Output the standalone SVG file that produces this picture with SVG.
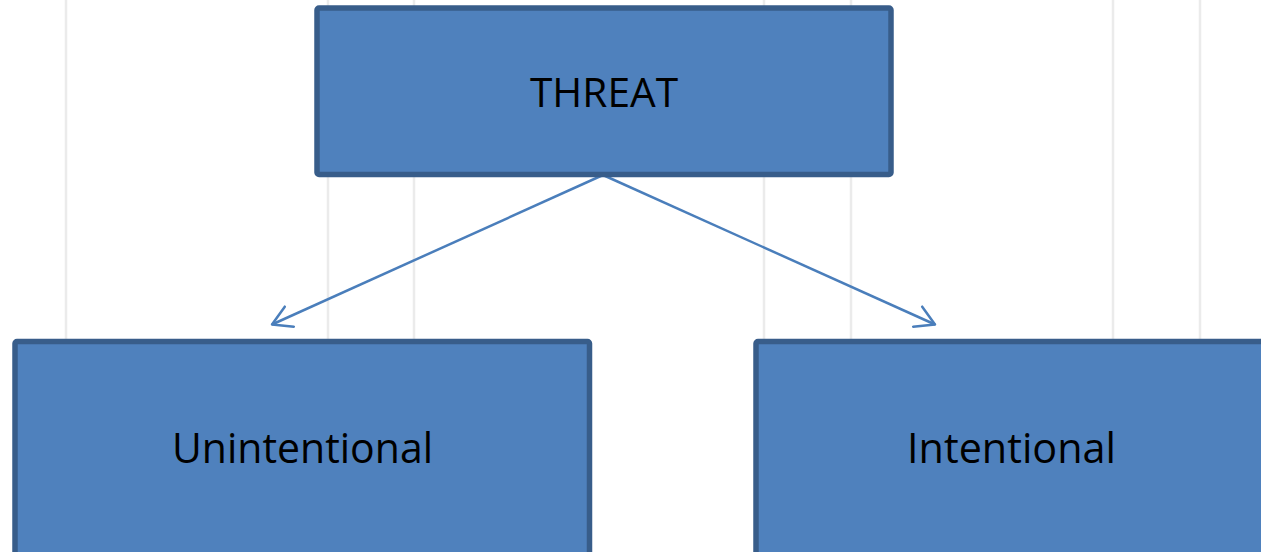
<svg xmlns="http://www.w3.org/2000/svg" width="1261" height="552" viewBox="0 0 1261 552">
  <style>
    .grid { stroke: #ebebeb; stroke-width: 2.5; }
    .box { fill: #4F81BD; stroke: #385D8A; stroke-width: 5.5; }
    .label { font-family: "Open Sans", "Liberation Sans", sans-serif; fill: #000000; text-anchor: middle; }
    .conn { stroke: #4A7EBB; stroke-width: 2.5; fill: none; }
  </style>
  <defs>
    <marker id="arrow" markerUnits="userSpaceOnUse" markerWidth="28" markerHeight="28" viewBox="-24 -14 28 28" refX="0" refY="0" orient="auto">
      <path d="M-19,-11 L0,0 L-19,11" fill="none" stroke="#4A7EBB" stroke-width="2.5" stroke-linecap="round" stroke-linejoin="round"/>
    </marker>
  </defs>
  <rect width="1261" height="552" fill="#ffffff"/>
  <g id="grid">
    <line class="grid" x1="66" y1="0" x2="66" y2="552"/>
    <line class="grid" x1="328" y1="0" x2="328" y2="552"/>
    <line class="grid" x1="414" y1="0" x2="414" y2="552"/>
    <line class="grid" x1="764" y1="0" x2="764" y2="552"/>
    <line class="grid" x1="851" y1="0" x2="851" y2="552"/>
    <line class="grid" x1="1113" y1="0" x2="1113" y2="552"/>
    <line class="grid" x1="1200" y1="0" x2="1200" y2="552"/>
  </g>
  <g id="connectors">
    <line class="conn" x1="603" y1="175" x2="272" y2="324.5" marker-end="url(#arrow)"/>
    <line class="conn" x1="603" y1="175" x2="935" y2="324.5" marker-end="url(#arrow)"/>
  </g>
  <g id="threat">
    <rect class="box" x="317" y="8" width="574" height="166.5" rx="2"/>
    <text class="label" x="604" y="107" font-size="40" textLength="148" lengthAdjust="spacingAndGlyphs">THREAT</text>
  </g>
  <g id="unintentional">
    <rect class="box" x="15" y="341.5" width="574.5" height="240" rx="2"/>
    <text class="label" x="302.5" y="463" font-size="42" textLength="261" lengthAdjust="spacingAndGlyphs">Unintentional</text>
  </g>
  <g id="intentional">
    <rect class="box" x="756" y="341.5" width="600" height="240" rx="2"/>
    <text class="label" x="1011.5" y="463" font-size="42" textLength="209" lengthAdjust="spacingAndGlyphs">Intentional</text>
  </g>
</svg>
